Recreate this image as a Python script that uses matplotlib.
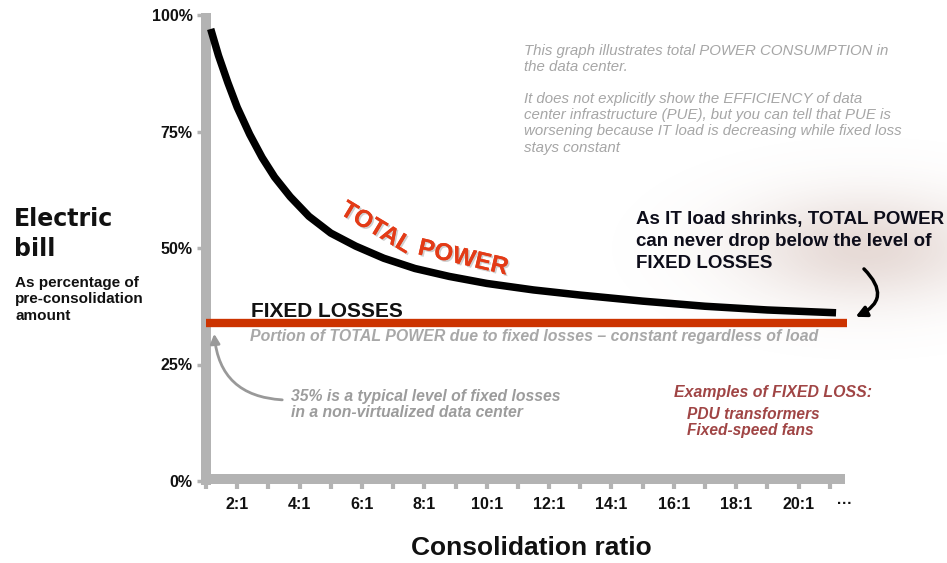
import numpy as np
import matplotlib
matplotlib.use('Agg')
import matplotlib.pyplot as plt
import matplotlib.patheffects as pe
from matplotlib.patches import FancyArrowPatch

# total power curve (x = consolidation ratio, y = % of bill)
ratio = [1.15, 1.4, 1.7, 2.0, 2.4, 2.8, 3.2, 3.7, 4.3, 5.0, 5.8, 6.7, 7.7, 8.8,
         10, 11.5, 13, 15, 17, 19, 21.2]
total_power = [97, 91.3, 85.5, 80.2, 74.4, 69.4, 65.2, 61.0, 56.8, 53.2, 50.4, 47.8,
               45.6, 43.9, 42.4, 41.0, 39.9, 38.6, 37.5, 36.7, 36.1]

# fixed losses level
fixed_x = [1, 21.55]
fixed_level = [34, 34]

x_ticks = list(range(1, 22))
x_labels = ['%d:1' % t if t % 2 == 0 else '' for t in x_ticks]
y_ticks = [0, 25, 50, 75, 100]
y_labels = ['0%', '25%', '50%', '75%', '100%']

W, H = 947, 563
def fx(px):
    return px / W
def fy(py):
    return 1 - py / H

GRAY = '#b3b3b3'
narrow = ['Liberation Sans Narrow', 'Liberation Sans', 'DejaVu Sans']
arial = ['Liberation Sans', 'DejaVu Sans']

fig = plt.figure(figsize=(9.47, 5.63), dpi=100)

# soft brown haze behind the callout text
bg = fig.add_axes([0, 0, 1, 1], zorder=-5)
bg.set_axis_off()
xx, yy = np.meshgrid(np.arange(W), np.arange(H))
r2 = ((xx - 865) / 125.0) ** 2 + ((yy - 248) / 55.0) ** 2
glow = np.zeros((H, W, 4))
glow[..., 0] = 0.60
glow[..., 1] = 0.40
glow[..., 2] = 0.34
glow[..., 3] = 0.24 * np.exp(-r2)
bg.imshow(glow, extent=[0, W, H, 0], aspect='auto')
bg.set_xlim(0, W)
bg.set_ylim(H, 0)

ax = fig.add_axes([206 / W, 1 - 481 / H, 655 / W, 466 / H])
ax.set_facecolor('none')
ax.set_xlim(1, 22)
ax.set_ylim(0, 100)

ax.plot(ratio, total_power, color='black', lw=5.4, solid_capstyle='butt',
        solid_joinstyle='round', zorder=3)
ax.plot(fixed_x, fixed_level, color='#cc3300', lw=6, solid_capstyle='butt',
        zorder=3, clip_on=False)

for s in ['top', 'right']:
    ax.spines[s].set_visible(False)
ax.spines['left'].set_color(GRAY)
ax.spines['left'].set_linewidth(7.2)
ax.spines['left'].set_bounds(-0.9, 100.4)
ax.spines['left'].set_capstyle('butt')
ax.spines['bottom'].set_color(GRAY)
ax.spines['bottom'].set_linewidth(7.2)
ax.spines['bottom'].set_position(('data', 0.5))
ax.spines['bottom'].set_bounds(0.84, 21.5)
ax.spines['bottom'].set_capstyle('butt')

ax.set_xticks(x_ticks)
ax.set_xticklabels(x_labels)
ax.set_yticks(y_ticks)
ax.set_yticklabels(y_labels)
ax.tick_params(axis='x', direction='out', length=7, width=3, color=GRAY, pad=6,
               labelsize=11.5, labelcolor='#111111')
ax.tick_params(axis='y', direction='out', length=6.5, width=2.5, color=GRAY, pad=3,
               labelsize=11.5, labelcolor='#111111')
for t in ax.get_xticklabels() + ax.get_yticklabels():
    t.set_fontfamily(narrow)
    t.set_fontweight('bold')

fig.text(fx(845), fy(504), '\u00b7\u00b7\u00b7', ha='center', va='center',
         fontsize=11, fontweight='bold', color='#111111', family=arial)

# axis titles
fig.text(fx(14), fy(207), 'Electric\nbill', ha='left', va='top', fontsize=17,
         fontweight='bold', family='DejaVu Sans', linespacing=1.3, color='#111111')
fig.text(fx(15), fy(276), 'As percentage of\npre-consolidation\namount', ha='left', va='top',
         fontsize=11, fontweight='bold', family=arial, linespacing=1.22, color='#111111')
fig.text(fx(531), fy(548), 'Consolidation ratio', ha='center', va='center', fontsize=19,
         fontweight='bold', family=arial, color='#111111')

# curve labels
shadow = [pe.withSimplePatchShadow(offset=(1.2, -1.2), shadow_rgbFace='#888888', alpha=0.4),
          pe.Normal()]
fig.text(fx(376), fy(228), 'TOTAL', rotation=-31, rotation_mode='anchor', ha='center',
         va='center', fontsize=17.5, fontweight='bold', family=arial, color='#e33b17',
         path_effects=shadow)
fig.text(fx(463), fy(258), 'POWER', rotation=-13, rotation_mode='anchor', ha='center',
         va='center', fontsize=17.5, fontweight='bold', family=arial, color='#e33b17',
         path_effects=shadow)
fig.text(fx(251), fy(317), 'FIXED LOSSES', ha='left', va='baseline', fontsize=15,
         fontweight='bold', family=arial, color='#111111')
fig.text(fx(250), fy(336), 'Portion of TOTAL POWER due to fixed losses \u2013 constant regardless of load',
         ha='left', va='center', fontsize=11.4, style='italic', fontweight='bold', family=arial,
         color='#a8a8a8')

# notes
fig.text(fx(524), fy(44), 'This graph illustrates total POWER CONSUMPTION in\nthe data center.',
         ha='left', va='top', fontsize=10.8, style='italic', family=arial, color='#a6a6a6',
         linespacing=1.2)
fig.text(fx(524), fy(92), 'It does not explicitly show the EFFICIENCY of data\n'
         'center infrastructure (PUE), but you can tell that PUE is\n'
         'worsening because IT load is decreasing while fixed loss\nstays constant',
         ha='left', va='top', fontsize=10.8, style='italic', family=arial, color='#a6a6a6',
         linespacing=1.2)
fig.text(fx(636), fy(211), 'As IT load shrinks, TOTAL POWER\ncan never drop below the level of\nFIXED LOSSES',
         ha='left', va='top', fontsize=13.5, fontweight='bold', family=arial, color='#0d0d1a',
         linespacing=1.38)
fig.text(fx(291), fy(389), '35% is a typical level of fixed losses\nin a non-virtualized data center',
         ha='left', va='top', fontsize=11.3, style='italic', fontweight='bold', family=arial,
         color='#9c9c9c', linespacing=1.05)
fig.text(fx(674), fy(393), 'Examples of FIXED LOSS:', ha='left', va='center', fontsize=11.4,
         style='italic', fontweight='bold', family=arial, color='#a04545')
fig.text(fx(687), fy(407), 'PDU transformers\nFixed-speed fans', ha='left', va='top', fontsize=11.2,
         style='italic', fontweight='bold', family=arial, color='#a04545', linespacing=1.05)

# arrows
gray_arrow = FancyArrowPatch((fx(285), fy(400)), (fx(214), fy(331)), transform=fig.transFigure,
                             connectionstyle='arc3,rad=-0.45', arrowstyle='-|>',
                             mutation_scale=14, color='#999999', lw=2)
fig.add_artist(gray_arrow)
black_arrow = FancyArrowPatch((fx(862), fy(267)), (fx(853), fy(318)), transform=fig.transFigure,
                              connectionstyle='arc3,rad=-0.75', arrowstyle='-|>',
                              mutation_scale=16, color='black', lw=2.5)
fig.add_artist(black_arrow)

fig.savefig('out.png', dpi=100)
